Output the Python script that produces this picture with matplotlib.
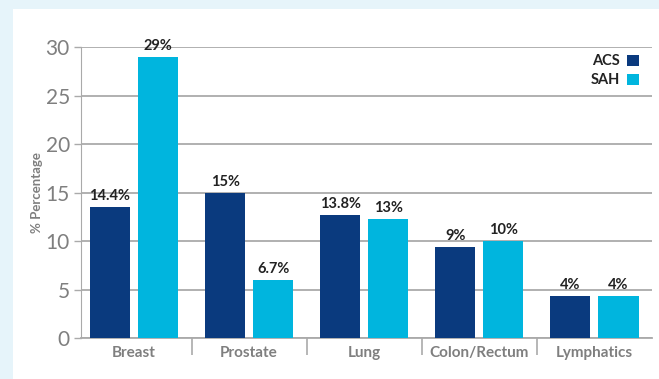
import numpy as np
import matplotlib.pyplot as plt
from matplotlib.patches import Rectangle

categories = ["Breast", "Prostate", "Lung", "Colon/Rectum", "Lymphatics"]
acs = [13.5, 15.0, 12.7, 9.4, 4.3]
sah = [29.0, 6.0, 12.3, 10.0, 4.3]
acs_labels = ["14.4%", "15%", "13.8%", "9%", "4%"]
sah_labels = ["29%", "6.7%", "13%", "10%", "4%"]

navy = "#0a3a7e"
cyan = "#00b5de"
grey = "#7f7f7f"

plt.rcParams['font.family'] = ['Lato', 'DejaVu Sans']

fig = plt.figure(figsize=(6.59, 3.79), dpi=100)
fig.patch.set_facecolor("#e6f4fa")
fig.patches.append(Rectangle((13/659, 0), 1, 1 - 9/379, transform=fig.transFigure,
                             facecolor="white", edgecolor="none", zorder=-5))

ax = fig.add_axes([81/659, 1 - 338/379, (652 - 81)/659, (338 - 47)/379])
ax.set_facecolor("none")
ax.set_zorder(2)

x = np.arange(len(categories))
w = 0.348
off = 0.209
b1 = ax.bar(x - off, acs, w, color=navy, zorder=3, label="ACS")
b2 = ax.bar(x + off, sah, w, color=cyan, zorder=3, label="SAH")

for rect, lab in zip(b1, acs_labels):
    ax.text(rect.get_x() + rect.get_width()/2, rect.get_height() + 0.4, lab,
            ha="center", va="bottom", fontsize=10.5, fontweight="bold", color="#222222")
for rect, lab in zip(b2, sah_labels):
    ax.text(rect.get_x() + rect.get_width()/2, rect.get_height() + 0.4, lab,
            ha="center", va="bottom", fontsize=10.5, fontweight="bold", color="#222222")

ax.set_xlim(-0.46, 4.50)
ax.set_ylim(0, 30)
ax.set_yticks([0, 5, 10, 15, 20, 25, 30])
ax.yaxis.grid(True, color="#aaaaaa", linewidth=1.3, zorder=1)
ax.set_axisbelow(True)
ax.tick_params(axis="y", length=5, width=1, color="#aaaaaa", labelsize=15,
               labelcolor=grey, pad=3)

ax.set_xticks(x)
ax.set_xticklabels(categories, fontsize=11, fontweight="bold", color=grey)
ax.tick_params(axis="x", length=0, pad=6)
ax.set_xticks(x[:-1] + 0.5, minor=True)
ax.tick_params(axis="x", which="minor", length=12, width=1.2, color="#aaaaaa")

for s in ["top", "right"]:
    ax.spines[s].set_visible(False)
ax.spines["left"].set_color("#aaaaaa")
ax.spines["bottom"].set_color("#aaaaaa")
ax.spines["bottom"].set_linewidth(1.3)

ax.set_ylabel("% Percentage", fontsize=9.5, fontweight="bold", color=grey, labelpad=2)

leg = ax.legend(loc="upper right", frameon=False, markerfirst=False, fontsize=10.5,
                handlelength=0.8, handleheight=0.8, handletextpad=0.5,
                labelspacing=0.35, bbox_to_anchor=(0.995, 1.01), borderaxespad=0.3)
for t in leg.get_texts():
    t.set_fontweight("bold")
    t.set_color("#222222")

fig.savefig("out.png", dpi=100, facecolor=fig.get_facecolor())
